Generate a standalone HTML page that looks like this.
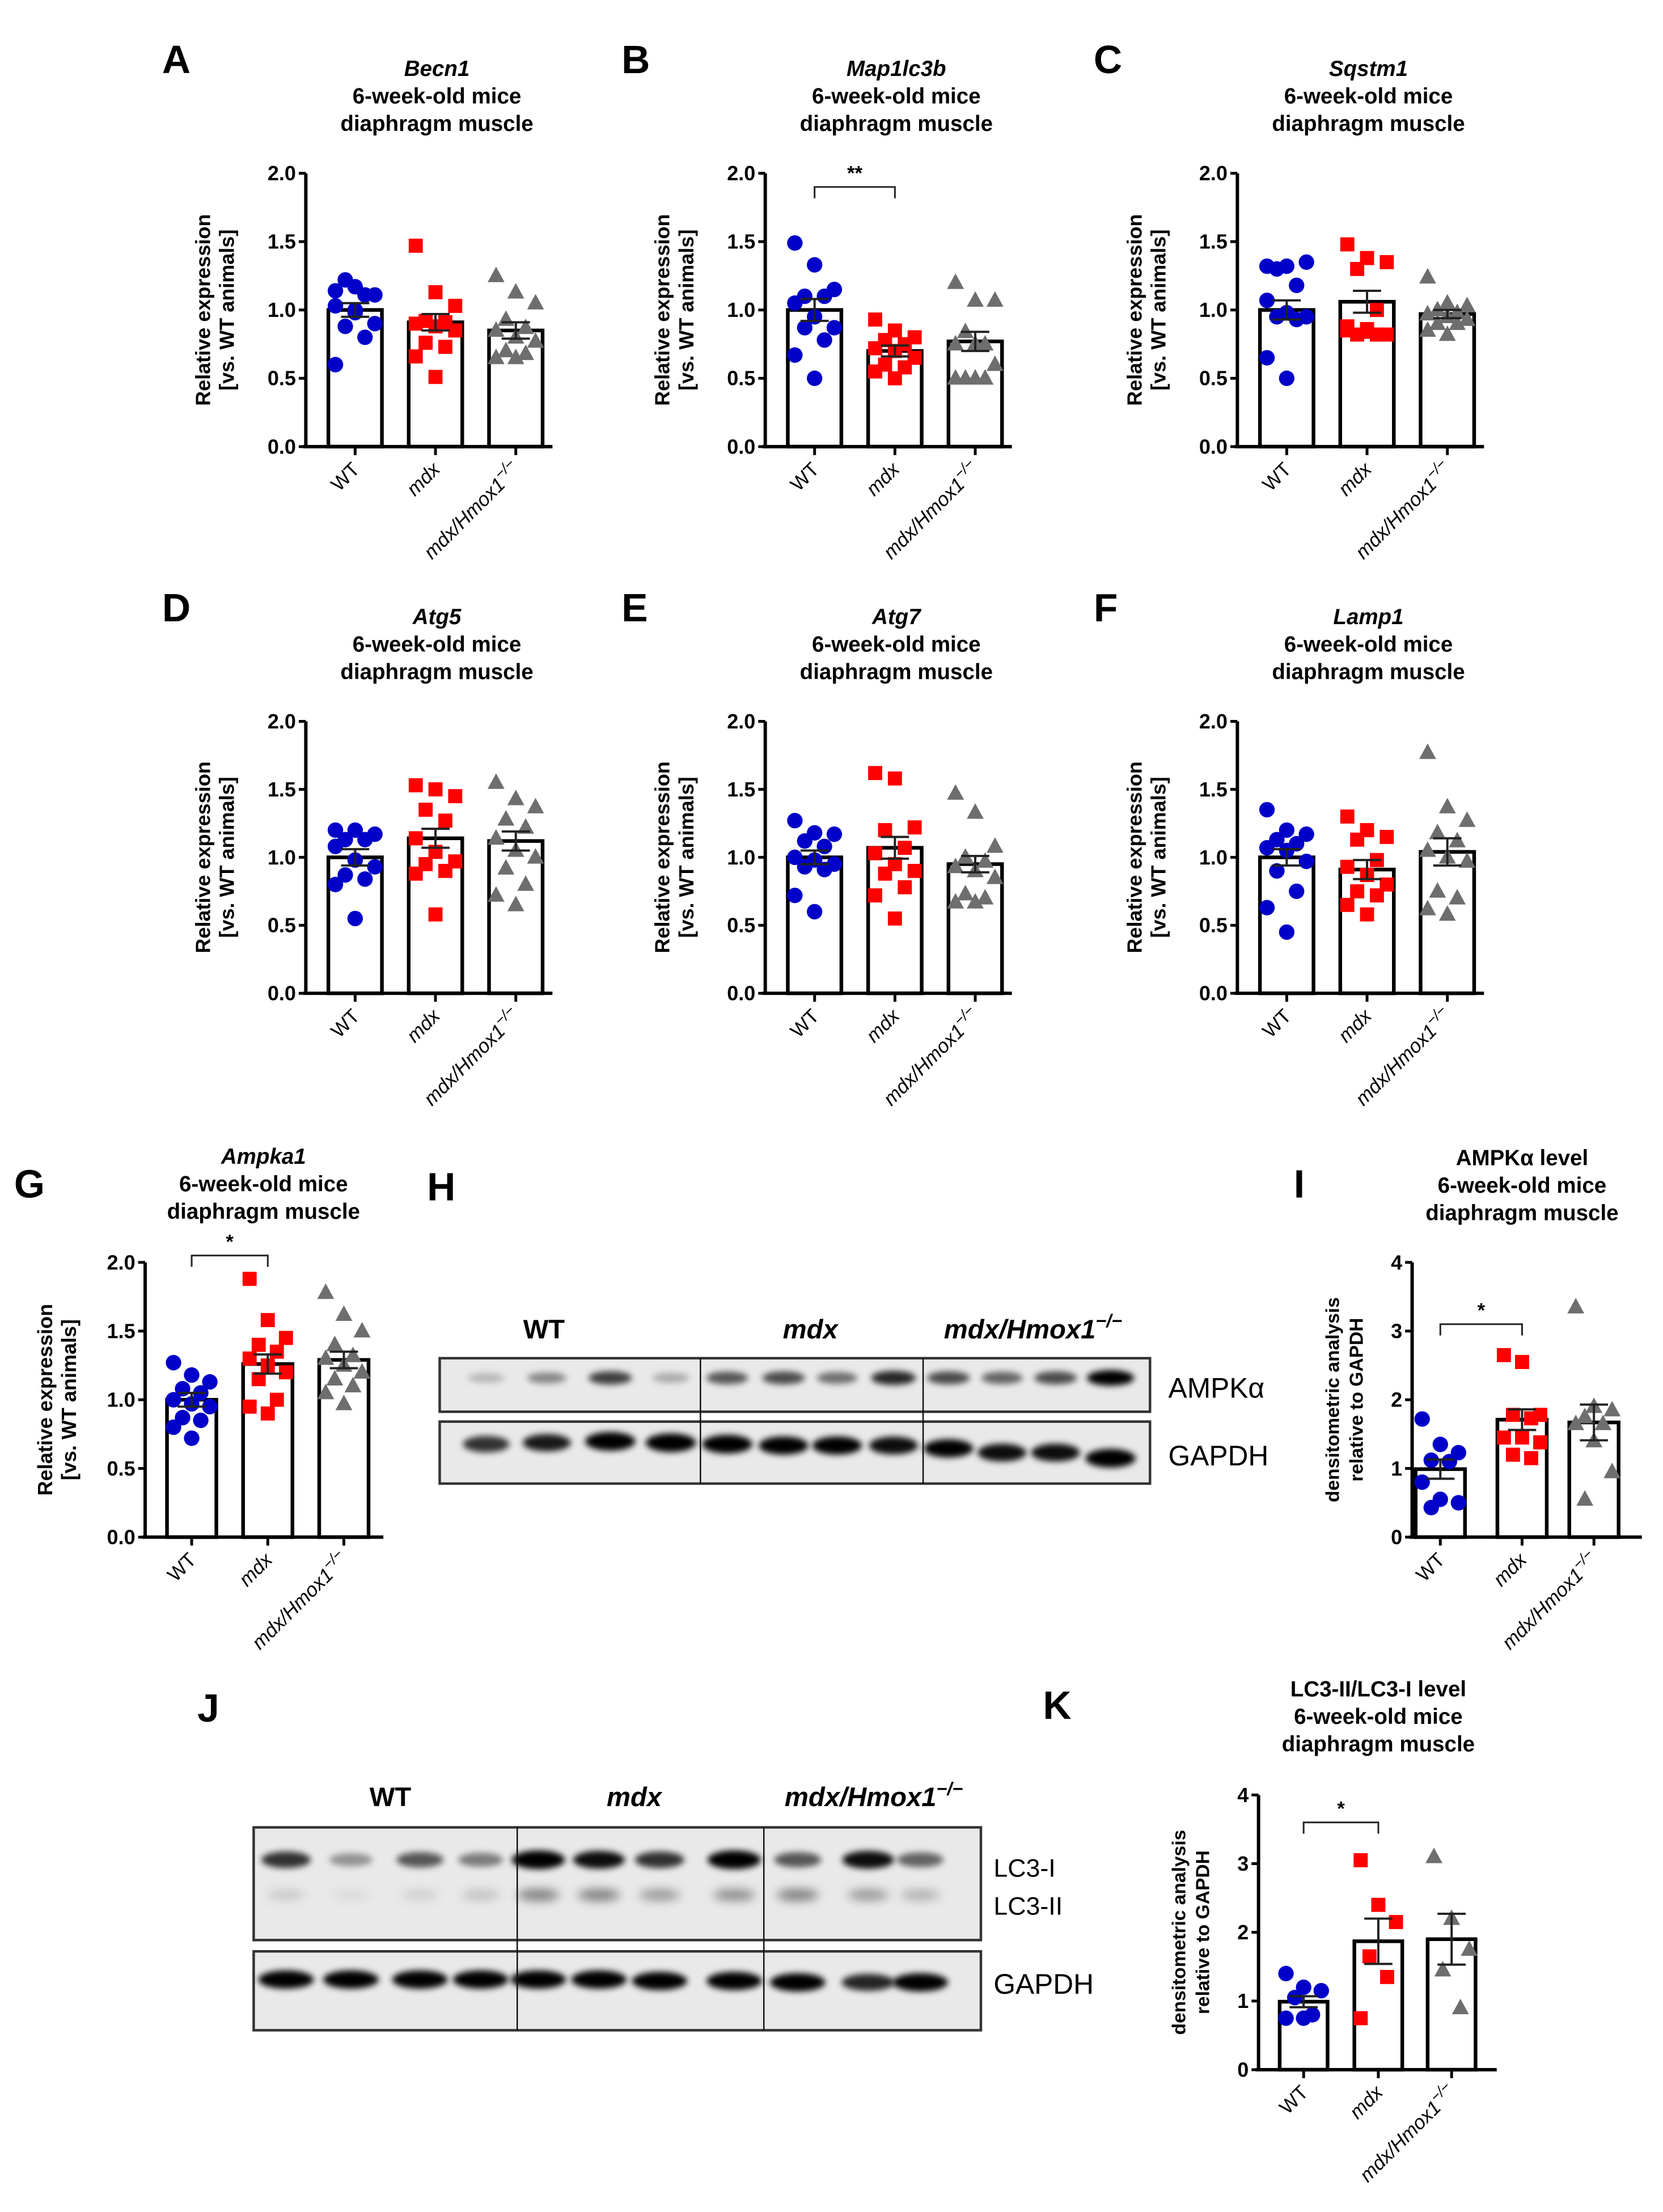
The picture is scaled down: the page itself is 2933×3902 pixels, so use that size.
<!DOCTYPE html>
<html><head><meta charset="utf-8"><style>
html,body{margin:0;padding:0;background:#fff;}
svg{display:block;}
text{font-family:"Liberation Sans",Arial,sans-serif;}
</style></head><body>
<svg id="fig" xmlns="http://www.w3.org/2000/svg" width="2933" height="3902" viewBox="0 0 1180 1570" preserveAspectRatio="none">
<defs>
<filter id="blur" x="-50%" y="-100%" width="200%" height="300%"><feGaussianBlur stdDeviation="2.2"/></filter>
<filter id="blur2" x="-50%" y="-100%" width="200%" height="300%"><feGaussianBlur stdDeviation="3.5"/></filter>
</defs>
</svg>
<script>
// ---------- data ----------
const groups = ["WT", "mdx", "mdx/Hmox1"];
const A_wt=[1.14,1.17,1.11,1.22,1.11,1.03,0.98,0.9,0.88,0.8,0.6,1.0];
const A_mdx=[1.47,1.13,1.03,0.92,0.91,0.9,0.88,0.85,0.76,0.73,0.66,0.51];
const A_hm=[1.25,1.13,1.05,0.93,0.87,0.85,0.8,0.77,0.7,0.68,0.65,0.65];
const A_mean=[1.0,0.91,0.85], A_sem=[0.05,0.06,0.06];
const B_wt=[1.49,1.33,1.15,1.1,1.1,1.05,0.95,0.87,0.87,0.78,0.67,0.5];
const B_mdx=[0.93,0.85,0.8,0.78,0.75,0.72,0.7,0.65,0.6,0.58,0.55,0.5];
const B_hm=[1.2,1.07,1.07,0.84,0.75,0.75,0.75,0.6,0.5,0.5,0.5,0.5];
const B_mean=[1.0,0.7,0.77], B_sem=[0.08,0.04,0.07];
const C_wt=[1.32,1.32,1.35,1.3,1.18,1.07,0.98,0.95,0.95,0.93,0.65,0.5];
const C_mdx=[1.48,1.38,1.35,1.3,1.0,0.88,0.84,0.82,0.82,0.82,0.85,0.86];
const C_hm=[1.24,1.05,1.03,1.0,0.98,0.97,0.95,0.93,0.9,0.9,0.85,0.82];
const C_mean=[1.0,1.06,0.97], C_sem=[0.07,0.08,0.03];
const D_wt=[1.2,1.2,1.17,1.13,1.13,1.08,0.98,0.93,0.87,0.84,0.8,0.55];
const D_mdx=[1.53,1.5,1.45,1.35,1.27,1.14,1.04,0.97,0.95,0.9,0.88,0.58];
const D_hm=[1.55,1.43,1.37,1.28,1.22,1.14,1.05,1.0,0.92,0.8,0.72,0.65];
const D_mean=[1.0,1.14,1.12], D_sem=[0.06,0.07,0.07];
const E_wt=[1.27,1.18,1.17,1.12,1.08,1.0,0.98,0.95,0.93,0.91,0.72,0.6];
const E_mdx=[1.62,1.58,1.22,1.2,1.07,1.03,0.95,0.9,0.88,0.78,0.72,0.55];
const E_hm=[1.47,1.33,1.08,1.0,0.97,0.93,0.9,0.85,0.73,0.7,0.67,0.67];
const E_mean=[1.0,1.07,0.95], E_sem=[0.05,0.08,0.06];
const F_wt=[1.35,1.2,1.17,1.13,1.1,1.07,1.05,0.97,0.9,0.75,0.63,0.45];
const F_mdx=[1.3,1.2,1.15,1.13,0.98,0.93,0.87,0.8,0.75,0.72,0.65,0.58];
const F_hm=[1.77,1.37,1.27,1.18,1.12,1.05,1.0,0.97,0.75,0.7,0.62,0.58];
const F_mean=[1.0,0.91,1.04], F_sem=[0.06,0.07,0.1];
const G_wt=[1.27,1.18,1.13,1.08,1.05,1.0,0.97,0.95,0.87,0.85,0.8,0.72];
const G_mdx=[1.88,1.58,1.45,1.4,1.35,1.3,1.25,1.2,1.15,1.0,0.95,0.9];
const G_hm=[1.78,1.62,1.5,1.4,1.32,1.3,1.25,1.2,1.15,1.1,1.05,0.97];
const G_mean=[1.0,1.26,1.29], G_sem=[0.05,0.07,0.06];
const I_wt=[1.72,1.35,1.23,1.12,1.1,0.8,0.55,0.5,0.43];
const I_mdx=[2.65,2.55,1.78,1.78,1.73,1.45,1.45,1.38,1.2,1.15];
const I_hm=[3.35,1.9,1.85,1.75,1.65,1.65,1.4,0.95,0.55];
const I_mean=[0.99,1.71,1.67], I_sem=[0.14,0.15,0.26];
const K_wt=[1.4,1.2,1.15,1.05,0.8,0.75,0.75];
const K_mdx=[3.05,2.4,2.15,1.65,1.35,0.75];
const K_hm=[3.1,2.2,1.75,1.45,0.9];
const K_mean=[0.99,1.87,1.9], K_sem=[0.08,0.33,0.37];
const rnaTicks=["0.0","0.5","1.0","1.5","2.0"];
const densTicks=["0","1","2","3","4"];
// blot band intensities (0..1)
const H_ampk=[0.2,0.4,0.7,0.25, 0.6,0.65,0.5,0.8, 0.65,0.55,0.65,1.0];
const H_gapdh=[0.75,0.85,1.0,1.0, 1.0,0.95,0.95,0.9, 0.95,0.9,0.9,1.0];
const J_lc3i=[0.75,0.35,0.6,0.45, 1.0,0.9,0.75,1.0, 0.6,0.9,0.55];
const J_lc3ii=[0.15,0.08,0.12,0.18, 0.45,0.45,0.35,0.4, 0.45,0.35,0.25];
const J_gapdh=[0.95,0.95,0.95,0.95, 0.95,0.95,0.95,0.95, 0.95,0.8,0.95];

// ---------- helpers ----------
const svg=document.getElementById('fig');
const NS="http://www.w3.org/2000/svg";
function mk(tag,attrs,parent){const e=document.createElementNS(NS,tag);for(const k in attrs)e.setAttribute(k,attrs[k]);(parent||svg).appendChild(e);return e;}
function txt(s,attrs,parent){const e=mk('text',attrs,parent);e.textContent=s;return e;}
const BLUE="#0000c8", RED="#ff0000", GREY="#6e6e6e";

function chart(o){
  const g=mk('g',{});
  
  
  const yS=v=>o.y0-(v/o.max)*(o.y0-o.yTop);
  const L=txt(o.letter,{x:o.lx,y:o.ly,'font-size':28,'font-weight':'bold'},g);
  
  
  o.title.forEach((t,i)=>{
    const e=txt(t,{x:o.tx,y:o.ty+i*19.5,'font-size':15.5,'font-weight':'bold','text-anchor':'middle','font-style':(i===0&&o.italic)?'italic':'normal'},g);
    
    
  });
  const yl=mk('text',{transform:`translate(${o.ax-o.ylOff},${(o.y0+o.yTop)/2}) rotate(-90)`,'font-size':o.ylSize||14.5,'font-weight':'bold','text-anchor':'middle'},g);
  
  
  o.ylab.forEach((t,i)=>{const ts=mk('tspan',{x:0,dy:i===0?0:17},yl);ts.textContent=t;});
  const data=o.data;
  o.cx.forEach((c,i)=>{
    const b=mk('rect',{x:c-o.bw/2,y:yS(o.mean[i]),width:o.bw,height:o.y0-yS(o.mean[i]),fill:'#fff',stroke:'#000','stroke-width':2.6},g);
    
    
  });
  o.cx.forEach((c,i)=>{
    const pts=data[i];
    pts.forEach((v,j)=>{
      const off=[-14,0,14,-7,7][j%5]*(o.bw/38);
      const x=c+off,y=yS(v);let m;
      if(i===0) m=mk('circle',{cx:x,cy:y,r:5.5,fill:BLUE},g);
      else if(i===1) m=mk('rect',{x:x-5,y:y-5,width:10,height:10,fill:RED},g);
      else m=mk('polygon',{points:`${x},${y-6.5} ${x-6},${y+4.5} ${x+6},${y+4.5}`,fill:GREY},g);
      
      
    });
  });
  o.cx.forEach((c,i)=>{
    const hi=yS(o.mean[i]+o.sem[i]),lo=yS(o.mean[i]-o.sem[i]);
    const e=mk('path',{d:`M${c},${hi}V${lo}M${c-10},${hi}H${c+10}M${c-10},${lo}H${c+10}`,stroke:'#222','stroke-width':1.6,fill:'none'},g);
    
    
  });
  const ax=mk('path',{d:`M${o.ax},${o.yTop}V${o.y0}M${o.ax-2},${o.y0}H${o.xEnd}`,stroke:'#000','stroke-width':2.4,fill:'none'},g);
  
  
  o.ticks.forEach((t,i)=>{
    const v=i*o.max/(o.ticks.length-1),y=yS(v);
    mk('line',{x1:o.ax-5,x2:o.ax,y1:y,y2:y,stroke:'#000','stroke-width':2},g);
    const tl=txt(t,{x:o.ax-7,y:y+5,'font-size':14.5,'font-weight':'bold','text-anchor':'end'},g);
    
    
  });
  o.cx.forEach((c,i)=>{
    mk('line',{x1:c,x2:c,y1:o.y0,y2:o.y0+6,stroke:'#000','stroke-width':2},g);
    const t=mk('text',{transform:`translate(${c+4},${o.y0+17}) rotate(-45)`,'font-size':14,'text-anchor':'end','font-style':i>0?'italic':'normal'},g);
    
    
    if(i<2)t.textContent=groups[i];
    else{t.textContent='mdx/Hmox1';const s=mk('tspan',{dy:-6,'font-size':10.5},t);s.textContent='−/−';}
  });
  if(o.sig){
    const y=yS(o.sig.v),x1=o.cx[0],x2=o.cx[1];
    const s=mk('path',{d:`M${x1},${y+8}V${y}H${x2}V${y+8}`,stroke:'#222','stroke-width':1.2,fill:'none'},g);
    
    
    const st=txt(o.sig.t,{x:(x1+x2)/2,y:y-5,'font-size':14,'font-weight':'bold','text-anchor':'middle'},g);
    
    
  }
}
const rnaLab=["Relative expression","[vs. WT animals]"];
const densLab=["densitometric analysis","relative to GAPDH"];
function rna(name,letter,gene,ax,yTop,y0,data,mean,sem,sig,titleTop){
  chart({name,letter,lx:ax-102,ly:titleTop-2,title:[gene,"6-week-old mice","diaphragm muscle"],italic:true,tx:ax+93,ty:titleTop,
    ax,yTop,y0,xEnd:ax+175,cx:[ax+35,ax+92,ax+149],bw:38,max:2,ticks:rnaTicks,ylab:rnaLab,ylOff:68,data,mean,sem,sig});
}
rna('chart-becn1','A','Becn1',217,123,317,[A_wt,A_mdx,A_hm],A_mean,A_sem,null,54);
rna('chart-map1lc3b','B','Map1lc3b',543,123,317,[B_wt,B_mdx,B_hm],B_mean,B_sem,{v:1.9,t:'**'},54);
rna('chart-sqstm1','C','Sqstm1',878,123,317,[C_wt,C_mdx,C_hm],C_mean,C_sem,null,54);
rna('chart-atg5','D','Atg5',217,512,705,[D_wt,D_mdx,D_hm],D_mean,D_sem,null,443);
rna('chart-atg7','E','Atg7',543,512,705,[E_wt,E_mdx,E_hm],E_mean,E_sem,null,443);
rna('chart-lamp1','F','Lamp1',878,512,705,[F_wt,F_mdx,F_hm],F_mean,F_sem,null,443);
chart({name:'chart-ampka1',letter:'G',lx:10,ly:850,title:["Ampka1","6-week-old mice","diaphragm muscle"],italic:true,tx:187,ty:826,
  ax:103,yTop:896,y0:1091,xEnd:272,cx:[136,190,244],bw:35,max:2,ticks:rnaTicks,ylab:rnaLab,ylOff:66,
  data:[G_wt,G_mdx,G_hm],mean:G_mean,sem:G_sem,sig:{v:2.05,t:'*'}});
chart({name:'chart-ampk-protein',letter:'I',lx:918,ly:850,title:["AMPKα level","6-week-old mice","diaphragm muscle"],italic:false,tx:1080,ty:827,
  ax:1002,yTop:896,y0:1091,xEnd:1165,cx:[1022,1080,1131],bw:35,max:4,ticks:densTicks,ylab:densLab,ylOff:52,ylSize:13.5,
  data:[I_wt,I_mdx,I_hm],mean:I_mean,sem:I_sem,sig:{v:3.1,t:'*'}});
chart({name:'chart-lc3-ratio',letter:'K',lx:740,ly:1220,title:["LC3-II/LC3-I level","6-week-old mice","diaphragm muscle"],italic:false,tx:978,ty:1204,
  ax:893,yTop:1274,y0:1469,xEnd:1062,cx:[925,978,1030],bw:34,max:4,ticks:densTicks,ylab:densLab,ylOff:52,ylSize:13.5,
  data:[K_wt,K_mdx,K_hm],mean:K_mean,sem:K_sem,sig:{v:3.6,t:'*'}});

// ---------- blots ----------
function blot(name,letter,lx,ly,x1,x2,boxes,divs,lanes,rows,labels,grpLab){
  const g=mk('g',{});
  
  
  const L=txt(letter,{x:lx,y:ly,'font-size':28,'font-weight':'bold'},g);
  
  
  boxes.forEach(b=>{
    const r=mk('rect',{x:x1,y:b[0],width:x2-x1,height:b[1]-b[0],fill:'#e9e9e9',stroke:'#333','stroke-width':1.8},g);
    
    
  });
  rows.forEach(row=>{
    lanes.forEach((c,i)=>{
      const v=row.vals[i];
      const e=mk('ellipse',{cx:c,cy:row.y+(row.slope?row.slope[i]:0),rx:row.rx*(0.75+0.3*v),ry:row.ry*(0.6+0.5*v),fill:'#000','fill-opacity':Math.min(1,v*1.05),filter:row.soft?'url(#blur2)':'url(#blur)'},g);
      
      
    });
  });
  divs.forEach(d=>mk('line',{x1:d,x2:d,y1:boxes[0][0],y2:boxes[boxes.length-1][1],stroke:'#111','stroke-width':1},g));
  grpLab.forEach(l=>{
    const t=txt(l[0],{x:l[1],y:l[2],'font-size':19,'font-weight':'bold','text-anchor':'middle','font-style':l[0]==='WT'?'normal':'italic'},g);
    
    
    if(l[0]==='mdx/Hmox1'){const s=mk('tspan',{dy:-8,'font-size':13},t);s.textContent='−/−';}
  });
  labels.forEach(l=>{
    const t=txt(l[0],{x:l[1],y:l[2],'font-size':l[3]||20},g);
    
    
  });
}
const hSlope=[0,-1,-2,-1, 0,1,1,1, 3,6,6,10];
blot('western-blot-ampk','H',303,852,312,816,[[964,1002],[1009,1053]],[497,655],
  [345,388,433,476,516,556,594,634,673,711,749,788],
  [{y:978,vals:H_ampk,rx:16,ry:5},{y:1025,vals:H_gapdh,rx:17,ry:6,slope:hSlope}],
  [["AMPKα",829,992],["GAPDH",829,1040]],
  [["WT",386,950],["mdx",575,950],["mdx/Hmox1",733,950]]);
blot('western-blot-lc3','J',140,1222,180,696,[[1297,1377],[1385,1441]],[367,542],
  [203,249,298,341,382,425,468,521,566,616,653],
  [{y:1320,vals:J_lc3i,rx:18,ry:6},{y:1345,vals:J_lc3ii,rx:17,ry:5,soft:true},{y:1405,vals:J_gapdh,rx:19,ry:6,slope:[0,0,0,0,0,0,1,1,2,2,2]}],
  [["LC3-I",705,1332,18],["LC3-II",705,1359,18],["GAPDH",705,1415]],
  [["WT",277,1282],["mdx",450,1282],["mdx/Hmox1",620,1282]]);
</script>
</body></html>
